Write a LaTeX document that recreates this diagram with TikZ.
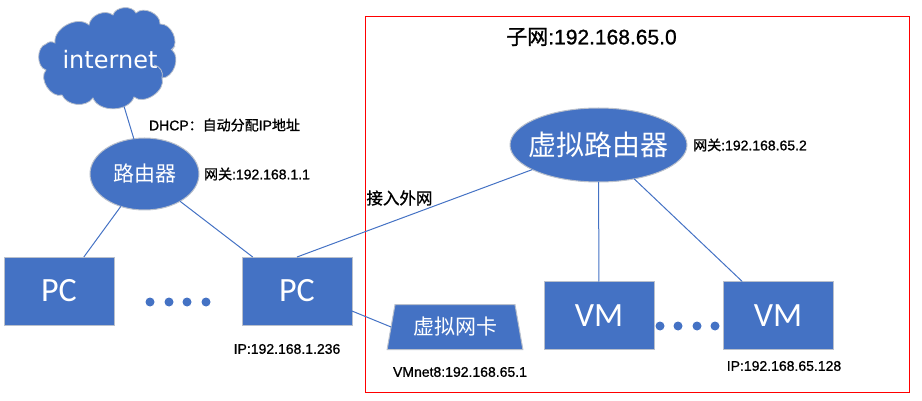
\documentclass[tikz,border=0pt]{standalone}
\usepackage{fontspec}
\usepackage{xcolor}
\setmainfont{Liberation Sans}
\newfontfamily\cjk{Noto Sans CJK SC}
\newfontfamily\cjklab[FakeBold=1.2]{Noto Sans CJK SC}
\newfontfamily\latlab[FakeBold=1]{Liberation Sans}
\newfontfamily\pcfont{Carlito}
\newfontfamily\netfont{DejaVu Sans}
\definecolor{boxblue}{HTML}{4472C4}
\definecolor{boxedge}{HTML}{B9C0CC}
\usetikzlibrary{shapes.geometric}

\tikzset{
  shapebase/.style={fill=boxblue, draw=boxedge, line width=1pt, text=white, outer sep=0pt, inner sep=0pt},
  hostbox/.style={shapebase, rectangle, minimum width=110pt, minimum height=68pt, font=\pcfont\fontsize{34}{34}\selectfont},
  routernode/.style={shapebase, ellipse, font=\cjk\fontsize{#1}{#1}\selectfont},
  link/.style={draw=boxblue, line width=1pt},
  dotmark/.style={circle, fill=boxblue, minimum size=9pt, inner sep=0pt},
  lab/.style={inner sep=0pt, font=\latlab\fontsize{#1}{#1}\selectfont},
  lab/.default=14,
}

\begin{document}
\begin{tikzpicture}[x=1pt,y=-1pt]
\useasboundingbox (0,0) rectangle (922,401);

\draw[red, line width=1pt] (365,17) rectangle (909,392);

% cloud outline
\draw[fill=boxblue, draw=boxedge, line width=.8pt]
  (55,43) to[bend left=70] (89,25) to[bend left=60] (113,15) to[bend left=70] (136,13)
  to[bend left=70] (160,24) to[bend left=70] (172,50) to[bend left=70] (162,78)
  to[bend left=75] (134,97) to[bend left=70] (93,98) to[bend left=60] (62,95)
  to[bend left=75] (46,70) to[bend left=75] (46,44) to[bend left=40] cycle;
\draw[boxedge, line width=.8pt] (154,65) to[bend left=50] (162,78);
\draw[boxedge, line width=.8pt] (171,50) -- (175,46);
\node[ellipse, minimum width=135pt, minimum height=95pt, inner sep=0pt, outer sep=0pt, text=white, font=\netfont\fontsize{24}{24}\selectfont] (internet) at (110,60) {\makebox[0pt]{internet}};

\node[routernode=21, minimum width=109pt, minimum height=72pt] (router) at (144.5,174) {\makebox[0pt]{路由器}};
\node[routernode=28, minimum width=177pt, minimum height=74pt] (vrouter) at (598.5,145) {\makebox[0pt]{虚拟路由器}};

\node[hostbox] (pc1) at (59,291) {PC};
\node[hostbox] (pc2) at (297,291) {PC};
\node[hostbox] (vm1) at (599,315.5) {VM};
\node[hostbox] (vm2) at (778,315.5) {VM};
\node[shapebase, trapezium, trapezium stretches=true, trapezium left angle=74, trapezium right angle=74,
  minimum width=136pt, minimum height=45pt, font=\cjk\fontsize{21}{21}\selectfont] (vnic) at (455,327) {虚拟网卡};

\draw[link] (internet) -- (router);
\draw[link] (router) -- (pc1);
\draw[link] (router) -- (pc2);
\draw[link] (pc2.north) -- (vrouter);
\draw[link] (pc2.-20.9) -- (vnic.west);
\draw[link] (vrouter) -- (vm1);
\draw[link] (vrouter) -- (vm2);

\foreach[count=\k] \x in {150,169,187,206} {
  \node[dotmark] (pcdot\k) at (\x,302) {};
}
\foreach[count=\k] \x in {660,678,697,715} {
  \node[dotmark] (vmdot\k) at (\x,326) {};
}

\node[lab] (dhcp) at (224.5,125) {DHCP{\cjklab ：自动分配}IP{\cjklab 地址}};
\node[lab] (gw) at (257,174) {{\cjklab 网关}:192.168.1.1};
\node[lab=17, font=\cjklab\fontsize{16.5}{16.5}\selectfont] (uplink) at (399.5,198) {接入外网};
\node[lab=21] (subnet) at (591.5,37) {{\cjklab 子网}:192.168.65.0};
\node[lab] (vgw) at (750,145) {{\cjklab 网关}:192.168.65.2};
\node[lab] (pcip) at (287,349) {IP:192.168.1.236};
\node[lab] (vmnet) at (460,372) {VMnet8:192.168.65.1};
\node[lab] (vmip) at (784,366) {IP:192.168.65.128};
\end{tikzpicture}
\end{document}
